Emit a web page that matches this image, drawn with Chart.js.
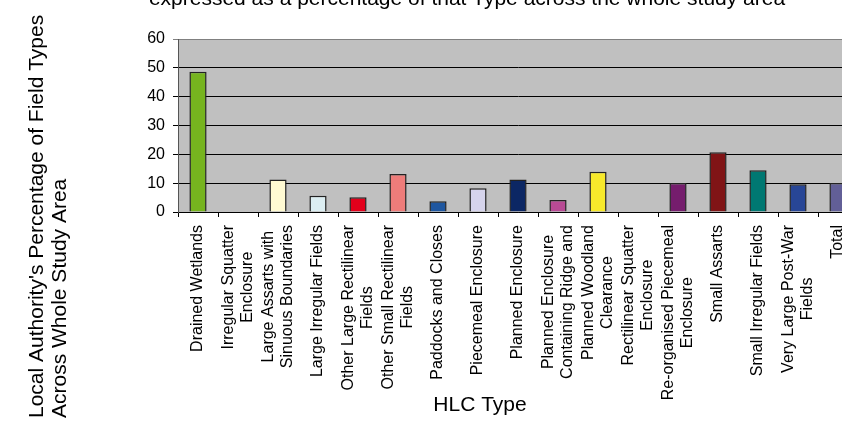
<!DOCTYPE html>
<html>
<head>
<meta charset="utf-8">
<script src="https://cdn.jsdelivr.net/npm/chart.js@4"></script>
<style>
  html, body { margin: 0; padding: 0; background: #fff; overflow: hidden; }
  #wrap { width: 870px; height: 421px; }
</style>
</head>
<body>
<div id="wrap"><canvas id="hlc"></canvas></div>
<script>
// kategorier (radbrutna som i originalet)
const types = [
  ['Drained Wetlands'],
  ['Irregular Squatter', 'Enclosure'],
  ['Large Assarts with', 'Sinuous Boundaries'],
  ['Large Irregular Fields'],
  ['Other Large Rectilinear', 'Fields'],
  ['Other Small Rectilinear', 'Fields'],
  ['Paddocks and Closes'],
  ['Piecemeal Enclosure'],
  ['Planned Enclosure'],
  ['Planned Enclosure', 'Containing Ridge and'],
  ['Planned Woodland', 'Clearance'],
  ['Rectilinear Squatter', 'Enclosure'],
  ['Re-organised Piecemeal', 'Enclosure'],
  ['Small Assarts'],
  ['Small Irregular Fields'],
  ['Very Large Post-War', 'Fields'],
  ['Total']
];

// procent per typ
const percentages = [48.6, 0, 11.3, 5.6, 5.1, 13.2, 3.7, 8.2, 11.3, 4.2, 14.0, 0, 10.1, 20.7, 14.5, 9.6, 10.1];

const barColors = [
  '#76b41f', '#c0c0c0', '#fffad2', '#dceef2', '#e3001b', '#ee7c7a', '#1f57a0', '#d6d4ec',
  '#0c2764', '#b84a94', '#f7e92b', '#c0c0c0', '#751d6d', '#801416', '#007872', '#284696', '#625f97'
];

const yTicks = [0, 10, 20, 30, 40, 50, 60];

const titleText = 'expressed as a percentage of that Type across the whole study area';
const yTitle = ["Local Authority's Percentage of Field Types", 'Across Whole Study Area'];
const xTitle = 'HLC Type';

const fontFamily = '"Liberation Sans", Arial, sans-serif';

// grå bakgrund i plotytan
const plotBg = {
  id: 'plotBg',
  beforeDraw(chart) {
    const { ctx, chartArea: a } = chart;
    ctx.save();
    ctx.fillStyle = '#c0c0c0';
    ctx.fillRect(a.left, a.top, a.right - a.left, a.bottom - a.top);
    ctx.restore();
  }
};

// roterade etiketter, centrerade rader, och titlar
const labelsAndTitles = {
  id: 'labelsAndTitles',
  afterDraw(chart) {
    const { ctx } = chart;
    const x = chart.scales.x;
    const lh = 19.5;
    ctx.save();
    ctx.fillStyle = '#000';
    ctx.font = '16px ' + fontFamily;
    ctx.textAlign = 'center';
    ctx.textBaseline = 'middle';
    types.forEach((lines, i) => {
      const px = x.getPixelForValue(i);
      const w = Math.max(...lines.map((l) => ctx.measureText(l).width));
      ctx.save();
      ctx.translate(px, x.top + 13);
      ctx.rotate(-Math.PI / 2);
      lines.forEach((l, j) => {
        ctx.fillText(l, -w / 2, (j - (lines.length - 1) / 2) * lh);
      });
      ctx.restore();
    });

    ctx.font = '21px ' + fontFamily;
    ctx.textBaseline = 'alphabetic';
    ctx.fillText(titleText, 467, 5);
    ctx.fillText(xTitle, 480, 411);

    ctx.textAlign = 'left';
    [43, 66].forEach((bx, j) => {
      ctx.save();
      ctx.translate(bx, 418);
      ctx.rotate(-Math.PI / 2);
      ctx.fillText(yTitle[j], 0, 0);
      ctx.restore();
    });
    ctx.restore();
  }
};

new Chart(document.getElementById('hlc'), {
  type: 'bar',
  data: {
    labels: types.map((t) => t.join(' ')),
    datasets: [
      {
        data: percentages,
        backgroundColor: barColors,
        borderColor: '#222',
        borderWidth: 1.5,
        barPercentage: 0.43,
        categoryPercentage: 1
      }
    ]
  },
  options: {
    responsive: true,
    maintainAspectRatio: false,
    animation: false,
    layout: { padding: { top: 39, right: 12, left: 0, bottom: 0 } },
    plugins: {
      legend: { display: false },
      tooltip: { enabled: false }
    },
    scales: {
      x: {
        ticks: { display: false, autoSkip: false },
        grid: {
          display: true,
          drawOnChartArea: false,
          offset: true,
          tickLength: 5,
          color: '#000'
        },
        border: { color: '#000', width: 1 },
        afterFit(scale) {
          scale.height = 209;
        }
      },
      y: {
        min: 0,
        max: 60,
        afterBuildTicks(scale) {
          scale.ticks = yTicks.map((v) => ({ value: v }));
        },
        ticks: {
          color: '#000',
          padding: 8,
          font: { family: fontFamily, size: 16 }
        },
        grid: {
          tickLength: 5,
          color: (c) => (c.tick && c.tick.value === 60 ? '#808080' : '#000'),
          lineWidth: 1
        },
        border: { color: '#555', width: 1 },
        afterFit(scale) {
          scale.width = 178;
        }
      }
    }
  },
  plugins: [plotBg, labelsAndTitles]
});
</script>
</body>
</html>
